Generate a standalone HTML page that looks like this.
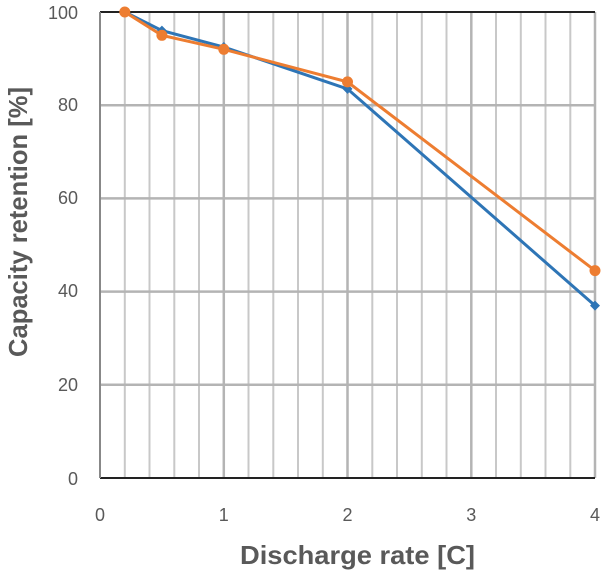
<!DOCTYPE html><html><head><style>body{margin:0;background:#fff}</style></head><body>
<svg width="603" height="572" xmlns="http://www.w3.org/2000/svg" font-family="Liberation Sans, sans-serif">
<g stroke="#c8c8c8" stroke-width="2">
<line x1="124.8" y1="12" x2="124.8" y2="478"/><line x1="149.5" y1="12" x2="149.5" y2="478"/><line x1="174.3" y1="12" x2="174.3" y2="478"/><line x1="199" y1="12" x2="199" y2="478"/>
<line x1="248.5" y1="12" x2="248.5" y2="478"/><line x1="273.3" y1="12" x2="273.3" y2="478"/><line x1="298" y1="12" x2="298" y2="478"/><line x1="322.8" y1="12" x2="322.8" y2="478"/>
<line x1="372.3" y1="12" x2="372.3" y2="478"/><line x1="397" y1="12" x2="397" y2="478"/><line x1="421.8" y1="12" x2="421.8" y2="478"/><line x1="446.5" y1="12" x2="446.5" y2="478"/>
<line x1="496" y1="12" x2="496" y2="478"/><line x1="520.8" y1="12" x2="520.8" y2="478"/><line x1="545.5" y1="12" x2="545.5" y2="478"/><line x1="570.3" y1="12" x2="570.3" y2="478"/>
</g>
<g stroke="#b4b4b4" stroke-width="2.5">
<line x1="223.8" y1="12" x2="223.8" y2="478"/><line x1="347.5" y1="12" x2="347.5" y2="478"/><line x1="471.3" y1="12" x2="471.3" y2="478"/><line x1="595" y1="12" x2="595" y2="478"/>
<line x1="100" y1="105.2" x2="595" y2="105.2"/><line x1="100" y1="198.4" x2="595" y2="198.4"/><line x1="100" y1="291.6" x2="595" y2="291.6"/><line x1="100" y1="384.8" x2="595" y2="384.8"/>
</g>
<line x1="100" y1="12" x2="595" y2="12" stroke="#222" stroke-width="2"/>
<line x1="100" y1="478" x2="595" y2="478" stroke="#222" stroke-width="2"/>
<line x1="100" y1="12" x2="100" y2="478" stroke="#888" stroke-width="2"/>
<polyline fill="none" stroke="#2e75b6" stroke-width="3" points="124.8,12 161.9,30.6 223.8,47 347.5,88.9 595,305.6"/>
<g fill="#2e75b6"><path d="M124.8,7 l5,5 -5,5 -5,-5z"/><path d="M161.9,25.6 l5,5 -5,5 -5,-5z"/><path d="M223.8,42 l5,5 -5,5 -5,-5z"/><path d="M347.5,83.9 l5,5 -5,5 -5,-5z"/><path d="M595,300.6 l5,5 -5,5 -5,-5z"/></g>
<polyline fill="none" stroke="#ed7d31" stroke-width="3" points="124.8,12 161.9,35.3 223.8,49.3 347.5,81.9 595,270.6"/>
<g fill="#ed7d31"><circle cx="124.8" cy="12" r="5.5"/><circle cx="161.9" cy="35.3" r="5.5"/><circle cx="223.8" cy="49.3" r="5.5"/><circle cx="347.5" cy="81.9" r="5.5"/><circle cx="595" cy="270.6" r="5.5"/></g>
<g fill="#595959" font-size="18" text-anchor="end">
<text x="78" y="19">100</text><text x="78" y="111">80</text><text x="78" y="204">60</text><text x="78" y="297">40</text><text x="78" y="391">20</text><text x="78" y="485">0</text>
</g>
<g fill="#595959" font-size="18" text-anchor="middle">
<text x="100" y="521">0</text><text x="223.8" y="521">1</text><text x="347.5" y="521">2</text><text x="471.3" y="521">3</text><text x="595" y="521">4</text>
</g>
<text x="240" y="564" fill="#595959" font-size="26" font-weight="bold" textLength="235" lengthAdjust="spacingAndGlyphs">Discharge rate [C]</text>
<text transform="translate(27,357) rotate(-90)" fill="#595959" font-size="26" font-weight="bold" textLength="270" lengthAdjust="spacingAndGlyphs">Capacity retention [%]</text>
</svg>
</body></html>
